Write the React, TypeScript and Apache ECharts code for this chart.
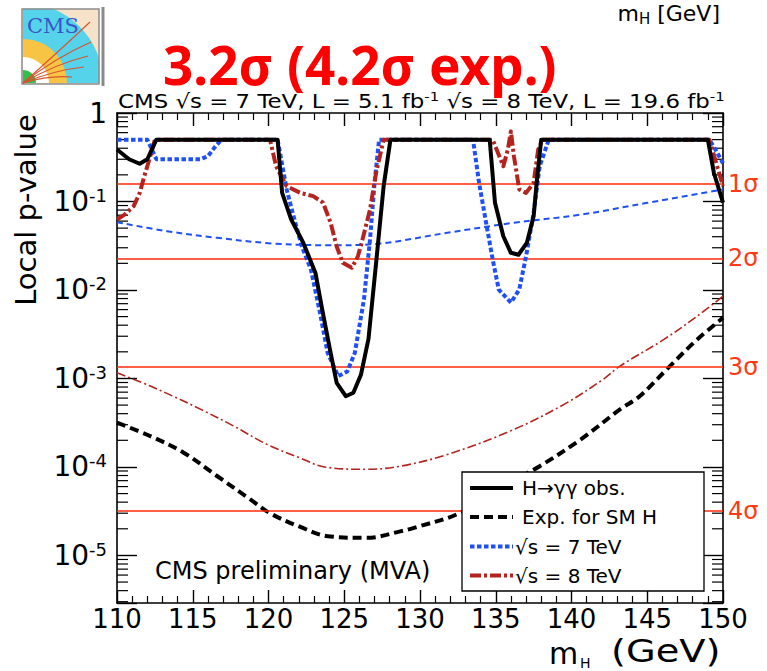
import React, { useEffect, useRef } from 'react';
import * as echarts from 'echarts';

const FONT = 'DejaVu Sans';

// Axis ranges
const X_MIN = 110;
const X_MAX = 150;
const X_STEP = 5;
const Y_MIN = 2.9e-6;
const Y_MAX = 1;

// Observed local p-value, combined (H -> gamma gamma)
const OBS_M = [110, 110.8, 111.5, 112.0, 112.6, 120.6, 120.9, 121.5, 122.3, 123.1, 123.5, 124.1, 124.5, 125.1, 125.6, 126.1, 126.6, 127.1, 127.6, 128.05, 134.6, 134.95, 135.5, 136.0, 136.5, 137.05, 137.5, 137.7, 138.0, 149.0, 149.4, 150];
const OBS_P = [0.387, 0.30, 0.267, 0.30, 0.5, 0.5, 0.125, 0.0626, 0.034, 0.0156, 0.0066, 0.00195, 0.00089, 0.00063, 0.00069, 0.0011, 0.0028, 0.02, 0.149, 0.5, 0.5, 0.0966, 0.0405, 0.0263, 0.025, 0.034, 0.068, 0.162, 0.5, 0.5, 0.21, 0.097];

// Expected for SM Higgs (combined)
const EXP_M = [110, 112.2, 114.4, 116.6, 118.8, 120.1, 122.1, 123.9, 126.5, 128.7, 129.6, 132.6, 135.1, 137.9, 140.6, 143.2, 144.5, 146.5, 148.3, 150];
const EXP_P = [3.16e-4, 2.23e-4, 1.45e-4, 7.9e-5, 4.3e-5, 3.0e-5, 2.1e-5, 1.65e-5, 1.58e-5, 1.87e-5, 2.05e-5, 3.0e-5, 5.6e-5, 1.02e-4, 2.04e-4, 4.47e-4, 6.3e-4, 1.38e-3, 2.76e-3, 4.85e-3];

// sqrt(s) = 7 TeV observed
const OBS7_M = [110, 112.0, 112.6, 115.5, 116.0, 116.5, 116.9, 120.6, 121.2, 121.6, 122.2, 122.8, 123.4, 123.9, 124.6, 125.2, 125.7, 126.3, 126.7, 127.0, 127.3, 133.5, 133.9, 134.4, 134.8, 135.2, 136.0, 136.55, 137.0, 137.5, 137.9, 138.5, 149.1, 149.5, 150];
const OBS7_P = [0.5, 0.5, 0.30, 0.30, 0.325, 0.42, 0.5, 0.5, 0.137, 0.074, 0.031, 0.017, 0.0055, 0.00195, 0.00106, 0.0012, 0.00195, 0.0078, 0.037, 0.162, 0.5, 0.5, 0.162, 0.053, 0.022, 0.0101, 0.0072, 0.0101, 0.024, 0.074, 0.25, 0.5, 0.5, 0.387, 0.27];

// sqrt(s) = 8 TeV observed
const OBS8_M = [110, 110.5, 111.1, 111.5, 111.8, 112.2, 112.5, 120.1, 120.5, 121.2, 122.1, 122.95, 123.6, 124.1, 124.5, 124.9, 125.5, 125.9, 126.2, 126.7, 127.1, 127.6, 134.8, 135.5, 135.8, 136.0, 136.2, 136.55, 137.0, 137.5, 137.8, 138.1, 149.1, 150];
const OBS8_P = [0.0626, 0.071, 0.0885, 0.125, 0.193, 0.325, 0.5, 0.5, 0.25, 0.149, 0.125, 0.115, 0.097, 0.0575, 0.031, 0.0203, 0.0178, 0.024, 0.037, 0.081, 0.21, 0.5, 0.5, 0.25, 0.387, 0.62, 0.325, 0.137, 0.125, 0.162, 0.387, 0.5, 0.5, 0.149];

// Expected, 7 TeV (thin dashed blue)
const EXP7_M = [110, 113.3, 116.6, 120.3, 124.2, 127.4, 131.8, 136.2, 140.6, 145.0, 149.4, 150];
const EXP7_P = [0.0583, 0.0462, 0.0389, 0.0335, 0.032, 0.0335, 0.0443, 0.0575, 0.071, 0.0966, 0.131, 0.137];

// Expected, 8 TeV (thin dash-dot red)
const EXP8_M = [110, 112.2, 113.7, 115.5, 117.7, 119.9, 122.1, 123.7, 126.5, 128.7, 131.8, 136.2, 139.6, 142.1, 143.2, 146.1, 148.3, 150];
const EXP8_P = [1.16e-3, 8.2e-4, 6.3e-4, 4.5e-4, 2.9e-4, 1.8e-4, 1.26e-4, 1.0e-4, 9.4e-5, 1.02e-4, 1.38e-4, 2.65e-4, 5.2e-4, 9.8e-4, 1.38e-3, 2.76e-3, 5.06e-3, 8.5e-3];

// Significance reference lines
const SIGMA_P = [0.158655, 0.02275, 0.0013499, 3.1671e-5];
const SIGMA_LABELS = ['1σ', '2σ', '3σ', '4σ'];

// Log-axis minor ticks
const MINOR_MULT = [2, 3, 4, 5, 6, 7, 8, 9];
const DECADES = [1e-6, 1e-5, 1e-4, 1e-3, 1e-2, 1e-1];

const LEGEND_LABELS = ['H→γγ obs.', 'Exp. for SM H', '√s = 7 TeV', '√s = 8 TeV'];

const C_BLUE = '#1e50f5';
const C_RED = '#b4231e';
const C_SIGMA = '#ff2a0a';

function pairs(m: number[], p: number[]) {
  return m.map((x, i) => [x, p[i]]);
}

function lineSeries(name: string, m: number[], p: number[], color: string, width: number, type: any, smooth: any, z: number, extra: any = {}) {
  return {
    type: 'line',
    name,
    data: pairs(m, p),
    symbol: 'none',
    showSymbol: false,
    smooth,
    z,
    silent: true,
    xAxisIndex: 0,
    yAxisIndex: 0,
    lineStyle: { color, width, type, cap: 'butt', join: 'round' },
    ...extra,
  };
}

export default function App() {
  const ref = useRef<HTMLDivElement>(null);

  useEffect(() => {
    if (!ref.current) return;
    const chart = echarts.init(ref.current, null, { renderer: 'svg' });

    const minorTicks: number[][] = [];
    DECADES.forEach((d) => {
      MINOR_MULT.forEach((k) => {
        const v = k * d;
        if (v >= Y_MIN && v <= Y_MAX) minorTicks.push([X_MIN, v]);
      });
    });

    const legendX0 = 462;
    const legendY0 = 472;
    const rowY = [488, 517, 546.5, 575.5];
    const legendStyles = [
      { stroke: '#000', lineWidth: 4, lineDash: null as any },
      { stroke: '#000', lineWidth: 4, lineDash: [9, 5] },
      { stroke: C_BLUE, lineWidth: 4, lineDash: [4.5, 2.5] },
      { stroke: C_RED, lineWidth: 4, lineDash: [11, 3, 3, 3] },
    ];

    const legendEls: any[] = [
      {
        type: 'rect',
        z: 100,
        shape: { x: legendX0, y: legendY0, width: 242, height: 119 },
        style: { fill: '#fff', stroke: '#000', lineWidth: 1.3 },
      },
    ];
    LEGEND_LABELS.forEach((lab, i) => {
      legendEls.push({
        type: 'line',
        z: 101,
        shape: { x1: 470, y1: rowY[i], x2: 513, y2: rowY[i] },
        style: { ...legendStyles[i], fill: null },
      });
      legendEls.push({
        type: 'text',
        z: 101,
        x: i < 2 ? 522 : 515,
        y: rowY[i],
        style: { text: lab, font: `20px "${FONT}"`, fill: '#000', align: 'left', verticalAlign: 'middle' },
      });
    });

    // CMS logo (approximate)
    const LCX = 23;
    const LCY = 83;
    const logoEls: any[] = [
      { type: 'rect', shape: { x: 22, y: 9, width: 77, height: 75 }, style: { fill: '#f6e2c9' } },
      { type: 'sector', shape: { cx: LCX, cy: LCY, r0: 0, r: 80, startAngle: -Math.PI / 2, endAngle: 0 }, style: { fill: '#55d3ea' } },
      { type: 'sector', shape: { cx: LCX, cy: LCY, r0: 0, r: 44, startAngle: -Math.PI / 2, endAngle: 0 }, style: { fill: '#f7c444' } },
      { type: 'sector', shape: { cx: LCX, cy: LCY, r0: 0, r: 26, startAngle: -Math.PI / 2, endAngle: 0 }, style: { fill: '#ffffff' } },
      { type: 'sector', shape: { cx: LCX, cy: LCY, r0: 0, r: 13, startAngle: -Math.PI / 2, endAngle: 0 }, style: { fill: '#2ec14c' } },
      { type: 'rect', shape: { x: 18, y: 0, width: 90, height: 8.6 }, style: { fill: '#fff' } },
      { type: 'rect', shape: { x: 99.3, y: 50, width: 3, height: 36 }, style: { fill: '#fff' } },
      { type: 'rect', shape: { x: 22, y: 9, width: 77, height: 75 }, style: { fill: null, stroke: '#8c8c8c', lineWidth: 1.5 } },
      { type: 'rect', shape: { x: 101.5, y: 7, width: 3, height: 79 }, style: { fill: '#8a8a8a' } },
      { type: 'text', x: 53, y: 26, style: { text: 'CMS', font: '21px "DejaVu Serif"', fill: '#3a55c8', align: 'center', verticalAlign: 'middle' } },
      { type: 'bezierCurve', shape: { x1: LCX, y1: LCY, x2: 90, y2: 22, cpx1: 55, cpy1: 55 }, style: { stroke: '#d9532f', lineWidth: 1.1, fill: null } },
      { type: 'bezierCurve', shape: { x1: LCX, y1: LCY, x2: 91, y2: 42, cpx1: 55, cpy1: 58 }, style: { stroke: '#d9532f', lineWidth: 1.1, fill: null } },
      { type: 'bezierCurve', shape: { x1: LCX, y1: LCY, x2: 88, y2: 56, cpx1: 55, cpy1: 64 }, style: { stroke: '#d9532f', lineWidth: 1.1, fill: null } },
      { type: 'bezierCurve', shape: { x1: LCX, y1: LCY, x2: 84, y2: 67, cpx1: 55, cpy1: 70 }, style: { stroke: '#d9532f', lineWidth: 1.1, fill: null } },
      { type: 'bezierCurve', shape: { x1: LCX, y1: LCY, x2: 72, y2: 77, cpx1: 50, cpy1: 75 }, style: { stroke: '#d9532f', lineWidth: 1.1, fill: null } },
    ];

    const textEls: any[] = [
      {
        type: 'text',
        x: 163,
        y: 64,
        style: { text: '3.2σ (4.2σ exp.)', font: `bold 53px "Noto Sans"`, fill: '#ff0000', align: 'left', verticalAlign: 'middle' },
      },
      {
        type: 'text',
        x: 720,
        y: 13.5,
        style: {
          text: '{m|m}{h|H}{m| [GeV]}',
          align: 'right',
          verticalAlign: 'middle',
          rich: {
            m: { fontSize: 22, fontFamily: FONT, fill: '#000', lineHeight: 26 },
            h: { fontSize: 15, fontFamily: FONT, fill: '#000', lineHeight: 15, verticalAlign: 'bottom' },
          },
        },
      },
      {
        type: 'text',
        x: 118,
        y: 101,
        scaleX: 1.143,
        style: {
          text: '{t|CMS √s = 7 TeV, L = 5.1 fb}{u|-1}{t| √s = 8 TeV, L = 19.6 fb}{u|-1}',
          align: 'left',
          verticalAlign: 'middle',
          rich: {
            t: { fontSize: 20, fontFamily: FONT, fill: '#000', lineHeight: 22 },
            u: { fontSize: 13, fontFamily: FONT, fill: '#000', lineHeight: 13, verticalAlign: 'top' },
          },
        },
      },
      {
        type: 'text',
        x: 26,
        y: 210,
        rotation: Math.PI / 2,
        style: { text: 'Local p-value', font: `29px "${FONT}"`, fill: '#000', align: 'center', verticalAlign: 'middle' },
      },
      // x-axis title m_H (GeV), drawn in three pieces
      {
        type: 'text',
        x: 549,
        y: 653,
        style: { text: 'm', font: `30px "${FONT}"`, fill: '#000', align: 'left', verticalAlign: 'middle' },
      },
      {
        type: 'text',
        x: 580,
        y: 663,
        style: { text: 'H', font: `14px "${FONT}"`, fill: '#000', align: 'left', verticalAlign: 'middle' },
      },
      {
        type: 'text',
        x: 611,
        y: 651,
        scaleX: 1.2,
        style: { text: '(GeV)', font: `32px "${FONT}"`, fill: '#000', align: 'left', verticalAlign: 'middle' },
      },
      {
        type: 'text',
        x: 155,
        y: 571,
        style: { text: 'CMS preliminary (MVA)', font: `24px "${FONT}"`, fill: '#000', align: 'left', verticalAlign: 'middle' },
      },
    ];

    const yLabelFormatter = (v: number) => {
      const l = Math.log10(v);
      const r = Math.round(l);
      if (Math.abs(l - r) > 1e-6) return '';
      if (r === 0) return '{b|1}';
      return `{b|10}{s|${r}}`;
    };

    const axisLineStyle = { color: '#000', width: 1.6 };

    const option: any = {
      animation: false,
      backgroundColor: '#fff',
      grid: { left: 117, top: 113, width: 606, height: 490, containLabel: false },
      xAxis: [
        {
          type: 'value',
          position: 'bottom',
          min: X_MIN,
          max: X_MAX,
          interval: X_STEP,
          axisLine: { show: true, lineStyle: axisLineStyle },
          axisTick: { show: true, inside: true, length: 13, lineStyle: { color: '#000', width: 1.4 } },
          minorTick: { show: true, splitNumber: 5, length: 7, lineStyle: { color: '#000', width: 1.2 } },
          splitLine: { show: false },
          axisLabel: { show: true, margin: 3, fontSize: 26, fontFamily: FONT, color: '#000' },
        },
        {
          type: 'value',
          position: 'top',
          min: X_MIN,
          max: X_MAX,
          interval: X_STEP,
          axisLine: { show: true, lineStyle: axisLineStyle },
          axisTick: { show: true, inside: true, length: 13, lineStyle: { color: '#000', width: 1.4 } },
          minorTick: { show: true, splitNumber: 5, length: 7, lineStyle: { color: '#000', width: 1.2 } },
          splitLine: { show: false },
          axisLabel: { show: false },
        },
      ],
      yAxis: [
        {
          type: 'log',
          logBase: 10,
          position: 'left',
          min: Y_MIN,
          max: Y_MAX,
          axisLine: { show: true, lineStyle: axisLineStyle },
          axisTick: { show: true, inside: true, length: 20, lineStyle: { color: '#000', width: 1.4 } },
          splitLine: { show: false },
          minorTick: { show: false },
          axisLabel: {
            show: true,
            margin: 10,
            formatter: yLabelFormatter,
            rich: {
              b: { fontSize: 28, fontFamily: FONT, color: '#000', lineHeight: 30 },
              s: { fontSize: 18, fontFamily: FONT, color: '#000', lineHeight: 18, verticalAlign: 'top' },
            },
          },
        },
        {
          type: 'log',
          logBase: 10,
          position: 'right',
          min: Y_MIN,
          max: Y_MAX,
          axisLine: { show: true, lineStyle: axisLineStyle },
          axisTick: { show: true, inside: true, length: 20, lineStyle: { color: '#000', width: 1.4 } },
          splitLine: { show: false },
          axisLabel: { show: false },
        },
      ],
      series: [
        {
          type: 'custom',
          name: 'minorTicks',
          coordinateSystem: 'cartesian2d',
          xAxisIndex: 0,
          yAxisIndex: 0,
          silent: true,
          clip: false,
          z: 1,
          data: minorTicks,
          renderItem: (params: any, api: any) => {
            const v = api.value(1);
            const pl = api.coord([X_MIN, v]);
            const pr = api.coord([X_MAX, v]);
            return {
              type: 'group',
              children: [
                { type: 'line', shape: { x1: pl[0], y1: pl[1], x2: pl[0] + 11, y2: pl[1] }, style: { stroke: '#000', lineWidth: 1.2 } },
                { type: 'line', shape: { x1: pr[0], y1: pr[1], x2: pr[0] - 11, y2: pr[1] }, style: { stroke: '#000', lineWidth: 1.2 } },
              ],
            };
          },
        },
        lineSeries('exp8', EXP8_M, EXP8_P, C_RED, 1.6, [9, 3, 2, 3], 0.35, 3, {
          markLine: {
            silent: true,
            precision: 10,
            symbol: ['none', 'none'],
            lineStyle: { color: C_SIGMA, width: 1.6, type: 'solid' },
            label: {
              show: true,
              position: 'end',
              distance: 5,
              formatter: (p: any) => p.name,
              color: '#ff3a12',
              fontSize: 24,
              fontFamily: FONT,
            },
            data: SIGMA_P.map((v, i) => ({ yAxis: v, name: SIGMA_LABELS[i] })),
          },
        }),
        lineSeries('exp7', EXP7_M, EXP7_P, C_BLUE, 2, [6, 4], 0.35, 3),
        lineSeries('exp', EXP_M, EXP_P, '#000', 4, [9, 5], 0.35, 4),
        lineSeries('obs7', OBS7_M, OBS7_P, C_BLUE, 4, [4.5, 2.5], false, 5),
        lineSeries('obs8', OBS8_M, OBS8_P, C_RED, 4, [11, 3, 3, 3], false, 6),
        lineSeries('obs', OBS_M, OBS_P, '#000', 4, 'solid', false, 7),
      ],
      graphic: [...logoEls, ...textEls, ...legendEls],
    };

    chart.setOption(option);
    return () => {
      chart.dispose();
    };
  }, []);

  return (
    <div
      ref={ref}
      style={{ position: 'fixed', left: 0, top: 0, width: 767, height: 671, background: '#fff' }}
    />
  );
}
